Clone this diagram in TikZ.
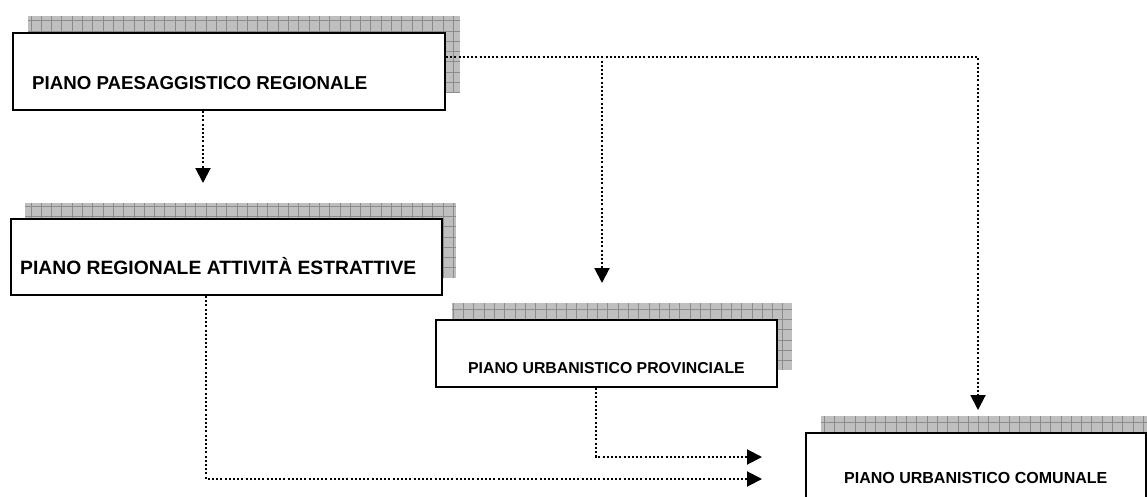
\documentclass[tikz,border=0pt]{standalone}
\usepackage{fontspec}
\setmainfont{Liberation Sans}
\usetikzlibrary{arrows.meta,calc}
\newcommand{\shadowrect}[4]{%
  \begin{scope}
    \clip (#1,#2) rectangle (#3,#4);
    \fill[black!25] (#1,#2) rectangle (#3,#4);
    \draw[black!45, line width=0.7pt, step=10.3pt] (#1,#2) grid (#3,#4);
  \end{scope}}
\tikzset{
  planbox/.style={draw=black, line width=1.9pt, fill=white, anchor=north west, inner sep=0pt},
  lbl/.style={anchor=base west, inner sep=0pt},
  txtA/.style={font=\bfseries\fontsize{18.7}{21}\selectfont},
  txtB/.style={font=\bfseries\fontsize{19.3}{21}\selectfont},
  txtC/.style={font=\bfseries\fontsize{15.8}{18}\selectfont},
  txtD/.style={font=\bfseries\fontsize{16}{18}\selectfont},
  conn/.style={line width=2pt, dash pattern=on 2pt off 2.2pt, -{Triangle[length=15pt,width=15pt]}}
}
\begin{document}
\begin{tikzpicture}[x=1pt, y=-1pt]
\useasboundingbox (0,0) rectangle (1147,496);
\clip (0,0) rectangle (1147,496);

% shadows
\shadowrect{28}{16}{460}{93}
\shadowrect{25}{203}{456}{278}
\shadowrect{452}{303}{792}{370}
\shadowrect{821}{416}{1161}{520}

% boxes
\node[planbox, minimum width=432pt, minimum height=77pt] (ppr) at (12,32) {};
\node[planbox, minimum width=431pt, minimum height=76pt] (pra) at (10,218) {};
\node[planbox, minimum width=341pt, minimum height=67pt] (pup) at (435,319) {};
\node[planbox, minimum width=340pt, minimum height=95pt] (puc) at (805,432) {};

% labels
\node[lbl, txtA] (tppr) at (32,89) {PIANO PAESAGGISTICO REGIONALE};
\node[lbl, txtB] (tpra) at (20,274) {PIANO REGIONALE ATTIVITÀ ESTRATTIVE};
\node[lbl, txtC] (tpup) at (468,373) {PIANO URBANISTICO PROVINCIALE};
\node[lbl, txtD] (tpuc) at (844,483) {PIANO URBANISTICO COMUNALE};

% free ends of connectors
\coordinate (j) at (978,57);
\coordinate (tipPRA) at (203,183);
\coordinate (tipPUP) at (602,283);
\coordinate (tipPUC) at (978,410);
\coordinate (tipA) at (762,457);
\coordinate (tipB) at (762,479);

% connectors
\draw[conn] ([xshift=191pt]ppr.south west) -- (tipPRA);
\draw[conn] (ppr.east |- j) -| (tipPUP);
\draw[conn] (ppr.east |- j) -| (tipPUC);
\draw[conn] ([xshift=196pt]pra.south west) |- (tipB);
\draw[conn] ([xshift=161pt]pup.south west) |- (tipA);
\end{tikzpicture}
\end{document}
